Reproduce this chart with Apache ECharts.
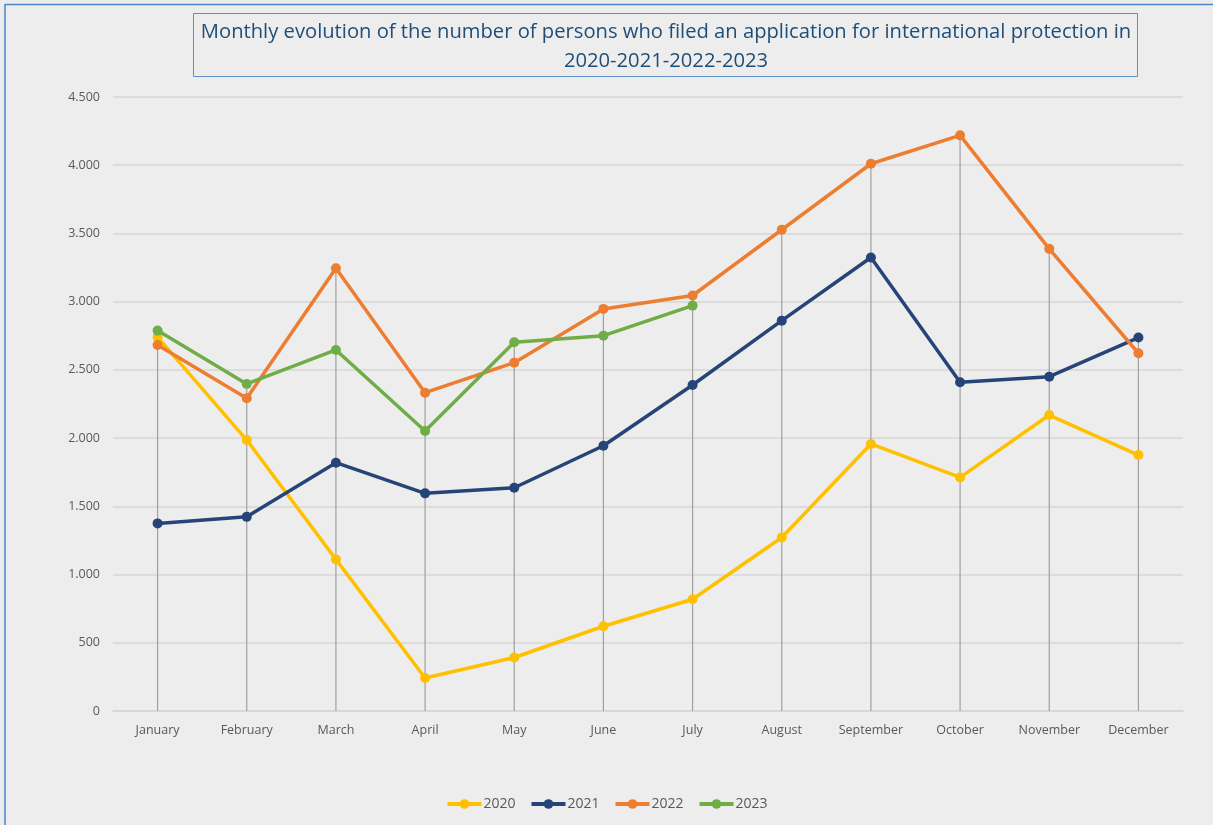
<!DOCTYPE html>
<html>
<head>
<meta charset="utf-8">
<script src="https://cdn.jsdelivr.net/npm/echarts@6/dist/echarts.min.js"></script>
<style>
	html, body { margin: 0; padding: 0; background: #ededed; }
	#chart { width: 1213px; height: 825px; }
</style>
</head>
<body>
<div id="chart"></div>
<script>
	const months = ['January', 'February', 'March', 'April', 'May', 'June', 'July',
		'August', 'September', 'October', 'November', 'December'];
	const years = ['2020', '2021', '2022', '2023'];
	const data2020 = [2740, 1986, 1111, 242, 392, 621, 819, 1272, 1957, 1712, 2169, 1876];
	const data2021 = [1375, 1423, 1820, 1595, 1636, 1944, 2389, 2861, 3324, 2409, 2450, 2737];
	const data2022 = [2683, 2292, 3245, 2333, 2553, 2947, 3045, 3527, 4011, 4219, 3387, 2622];
	const data2023 = [2788, 2397, 2646, 2052, 2703, 2751, 2971];
	const colors = ['#FFC000', '#264478', '#ED7D31', '#70AD47'];

	// drop lines: from the axis up to the highest point of each month
	const dropData = months.map((m, i) =>
		Math.max(...[data2020, data2021, data2022, data2023].map(s => s[i] == null ? 0 : s[i])));

	const fmt = v => String(v).replace(/\B(?=(\d{3})+(?!\d))/g, '.');
	const font = 'Open Sans';

	const chart = echarts.init(document.getElementById('chart'));

	const lineSeries = [data2020, data2021, data2022, data2023].map((d, i) => ({
		name: years[i],
		type: 'line',
		data: d,
		symbol: 'circle',
		symbolSize: 10,
		z: 3 + i,
		lineStyle: { width: 3.5, color: colors[i] },
		itemStyle: { color: colors[i] },
	}));

	const option = {
		backgroundColor: '#ededed',
		animation: false,
		graphic: [
			{ type: 'line', shape: { x1: 5, y1: 4.5, x2: 1213, y2: 4.5 }, style: { stroke: '#4a86c8', lineWidth: 1.5 } },
			{ type: 'line', shape: { x1: 5, y1: 4, x2: 5, y2: 825 }, style: { stroke: '#4a86c8', lineWidth: 1.5 } },
			{ type: 'rect', shape: { x: 193.5, y: 13.5, width: 944, height: 63 },
				style: { fill: '#ededed', stroke: '#5b8fc7', lineWidth: 1 }, z: 0 },
		],
		title: {
			text: 'Monthly evolution of the number of persons who filed an application for international protection in\n2020-2021-2022-2023',
			left: 661,
			top: 13,
			textAlign: 'center',
			textStyle: {
				fontFamily: font,
				fontSize: 20.2,
				fontWeight: 'normal',
				color: '#1f4e79',
				lineHeight: 29,
			},
			z: 5,
		},
		legend: {
			bottom: 9,
			left: 'center',
			itemWidth: 34,
			itemHeight: 12,
			itemGap: 14,
			data: years,
			lineStyle: { width: 4 },
			textStyle: { fontFamily: font, fontSize: 14, color: '#595959', padding: [0, 0, 0, -3] },
		},
		grid: { left: 113, right: 30, top: 97, bottom: 114 },
		xAxis: {
			type: 'category',
			data: months,
			axisLine: { show: true, lineStyle: { color: '#d6d6d6', width: 1.5 } },
			axisTick: { show: false },
			axisLabel: { fontFamily: font, fontSize: 12.5, color: '#595959', margin: 13 },
		},
		yAxis: {
			type: 'value',
			min: 0,
			max: 4500,
			interval: 500,
			axisLine: { show: false },
			axisTick: { show: false },
			axisLabel: { fontFamily: font, fontSize: 12.5, color: '#595959', margin: 13, formatter: fmt },
			splitLine: { lineStyle: { color: '#d6d6d6', width: 1.5 } },
		},
		series: [
			{
				name: 'drop',
				type: 'bar',
				data: dropData,
				barWidth: 1.2,
				silent: true,
				itemStyle: { color: '#a0a0a0' },
				z: 1,
			},
			...lineSeries,
		],
	};
	chart.setOption(option);
</script>
</body>
</html>
